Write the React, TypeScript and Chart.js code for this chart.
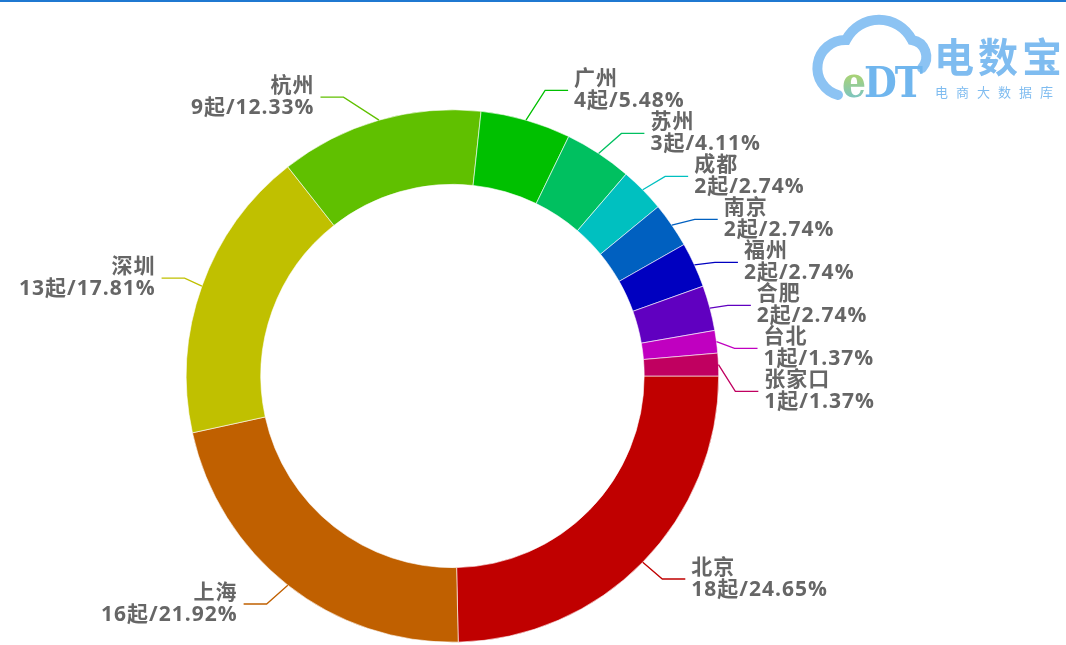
import React, { useEffect, useRef } from 'react';
import { Chart, registerables } from 'chart.js';

Chart.register(...registerables);

const cities = ['北京', '上海', '深圳', '杭州', '广州', '苏州', '成都', '南京', '福州', '合肥', '台北', '张家口'];
const counts = [18, 16, 13, 9, 4, 3, 2, 2, 2, 2, 1, 1];
const percents = ['24.65', '21.92', '17.81', '12.33', '5.48', '4.11', '2.74', '2.74', '2.74', '2.74', '1.37', '1.37'];
const colors = ['#c00000', '#c06000', '#c0c000', '#60c000', '#00c000', '#00c060', '#00c0c0', '#0060c0', '#0000c0', '#6000c0', '#c000c0', '#c00060'];

const LABEL_FONT = 'bold 21px "Open Sans", "Noto Sans CJK SC", sans-serif';
const LABEL_COLOR = '#666666';
const LINE_H = 22;
const GAP = 43;

const outerLabels = {
  id: 'outerLabels',
  afterDatasetsDraw(chart: any) {
    const meta = chart.getDatasetMeta(0);
    const ctx = chart.ctx;
    const items = meta.data.map((arc: any, i: number) => {
      const p = arc.getProps(['x', 'y', 'startAngle', 'endAngle', 'outerRadius'], true);
      const mid = (p.startAngle + p.endAngle) / 2;
      const cos = Math.cos(mid);
      const sin = Math.sin(mid);
      const r = p.outerRadius;
      const ly = p.y + (r + 24) * sin;
      return { i, cx: p.x, cy: p.y, r, right: cos >= 0, px: p.x + r * cos, py: p.y + r * sin, ly, oy: ly };
    });
    [true, false].forEach((side) => {
      const list = items.filter((it: any) => it.right === side).sort((a: any, b: any) => a.ly - b.ly);
      const clusters: any[][] = [];
      let cur: any[] = [];
      for (let k = 0; k < list.length; k++) {
        if (k > 0 && list[k].ly < list[k - 1].ly + GAP) {
          list[k].ly = list[k - 1].ly + GAP;
          cur.push(list[k]);
        } else {
          if (cur.length) clusters.push(cur);
          cur = [list[k]];
        }
      }
      if (cur.length) clusters.push(cur);
      clusters.forEach((cl) => {
        if (cl.length < 2) return;
        const mean = cl.reduce((s: number, it: any) => s + (it.ly - it.oy), 0) / cl.length;
        cl.forEach((it: any) => { it.ly -= mean / 2; });
      });
    });
    ctx.save();
    items.forEach((it: any) => {
      const a = it.r + 17;
      const b = it.r + 36;
      const dy = it.ly - it.cy;
      const t = Math.max(0, 1 - (dy / b) * (dy / b));
      const dir = it.right ? 1 : -1;
      const ex = it.cx + dir * a * Math.sqrt(t);
      const hx = ex + dir * 23;
      ctx.strokeStyle = colors[it.i];
      ctx.lineWidth = 1.3;
      ctx.beginPath();
      ctx.moveTo(it.px, it.py);
      ctx.lineTo(ex, it.ly);
      ctx.lineTo(hx, it.ly);
      ctx.stroke();
      ctx.fillStyle = LABEL_COLOR;
      ctx.font = LABEL_FONT;
      (ctx as any).letterSpacing = '1px';
      ctx.textAlign = it.right ? 'left' : 'right';
      ctx.textBaseline = 'middle';
      const tx = hx + dir * 6;
      ctx.fillText(cities[it.i], tx, it.ly - LINE_H / 2);
      ctx.fillText(`${counts[it.i]}起/${percents[it.i]}%`, tx, it.ly + LINE_H / 2);
    });
    ctx.restore();
  },
};

function Logo() {
  return (
    <svg width={266} height={110} style={{ position: 'absolute', left: 800, top: 0 }}>
      <defs>
        <linearGradient id="eg" x1="0" y1="0" x2="0" y2="1">
          <stop offset="0" stopColor="#c9dc3c" />
          <stop offset="1" stopColor="#6cc0e0" />
        </linearGradient>
      </defs>
      <path
        d="M 38 95 A 28 28 0 0 1 46 40 A 37 37 0 0 1 112 40 A 17 17 0 0 1 122 68"
        fill="none"
        stroke="#8cc3f3"
        strokeWidth={10}
        strokeLinecap="round"
      />
      <text x={42} y={97} fontFamily="'DejaVu Serif Condensed', 'DejaVu Serif', serif" fontWeight="bold" fontSize={42} letterSpacing={-2}>
        <tspan fill="url(#eg)">e</tspan>
        <tspan fill="#70b6ee">DT</tspan>
      </text>
      <text x={134} y={72} fontFamily="'Noto Sans CJK SC', sans-serif" fontWeight="bold" fontSize={40} fill="#7fbcf0" letterSpacing={4}>电数宝</text>
      <text x={135} y={97} fontFamily="'Noto Sans CJK SC', sans-serif" fontSize={13} fill="#7fbcf0" letterSpacing={8}>电商大数据库</text>
    </svg>
  );
}

export default function App() {
  const ref = useRef<HTMLCanvasElement | null>(null);
  useEffect(() => {
    document.body.style.margin = '0';
    const chart = new Chart(ref.current as HTMLCanvasElement, {
      type: 'doughnut',
      data: {
        labels: cities,
        datasets: [
          {
            data: counts,
            backgroundColor: colors,
            borderColor: '#ffffff',
            borderWidth: 0.6,
            hoverOffset: 0,
            offset: 0,
          },
        ],
      },
      options: {
        responsive: false,
        animation: false,
        events: [],
        cutout: '72%',
        rotation: 90,
        layout: { padding: { left: 186, right: 347, top: 109, bottom: 2 } },
        plugins: { legend: { display: false }, tooltip: { enabled: false } },
      },
      plugins: [outerLabels],
    } as any);
    return () => chart.destroy();
  }, []);
  return (
    <div style={{ position: 'relative', width: 1066, height: 645, background: '#fff', overflow: 'hidden' }}>
      <div style={{ position: 'absolute', left: 0, top: 0, width: 1066, height: 2, background: '#1f78d1' }} />
      <canvas ref={ref} width={1066} height={645} style={{ position: 'absolute', left: 0, top: 0 }} />
      <Logo />
    </div>
  );
}
